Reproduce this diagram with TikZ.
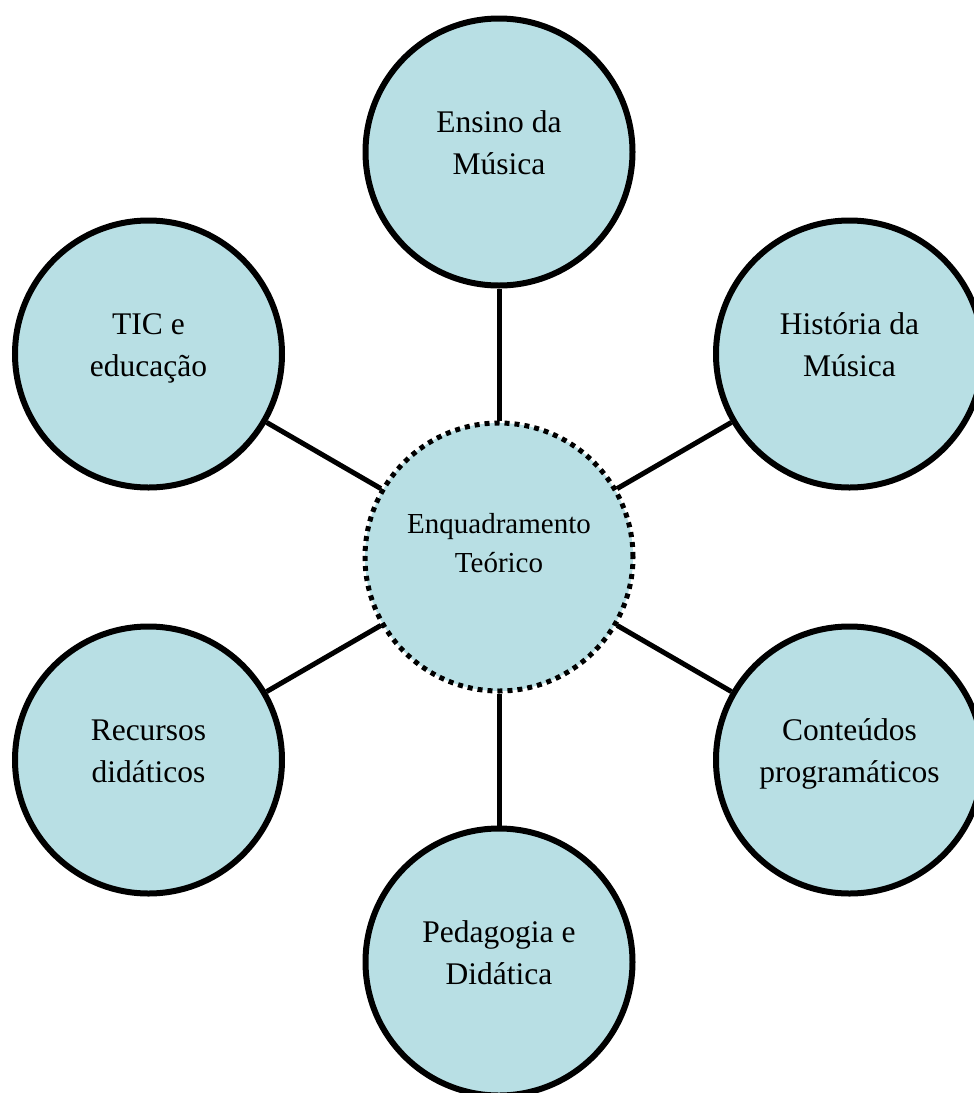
\documentclass[tikz,border=0pt]{standalone}
\usepackage{fontspec}
\setmainfont{Liberation Serif}
\definecolor{bub}{RGB}{184,223,228}
\begin{document}
\begin{tikzpicture}[x=1pt,y=-1pt,
  bubble/.style={circle,draw=black,line width=6pt,fill=bub,minimum size=267pt,inner sep=0pt},
  hub/.style={bubble,line width=5pt,minimum size=268pt,dash pattern=on 5pt off 5pt},
  lbl/.style={align=center,inner sep=0pt,anchor=north,font=\fontsize{31.5}{42}\selectfont},
  hublbl/.style={align=center,inner sep=0pt,anchor=north,font=\fontsize{29}{39}\selectfont},
  link/.style={line width=5pt}]
\useasboundingbox (0,0) rectangle (974,1093);
\clip (0,0) rectangle (974,1093);

\node[hub] (c) at (499,557) {};
\node[bubble] (n) at (499,152) {};
\node[bubble] (ne) at (849.5,354) {};
\node[bubble] (nw) at (148.5,354) {};
\node[bubble] (sw) at (148.5,760) {};
\node[bubble] (se) at (849.5,760) {};
\node[bubble] (s) at (499,962) {};

\draw[link] (c) -- (n);
\draw[link] (c) -- (ne);
\draw[link] (c) -- (nw);
\draw[link] (c) -- (sw);
\draw[link] (c) -- (se);
\draw[link] (c) -- (s);

\node[hublbl] (tc) at ([yshift=51.3pt]c.center) {\strut Enquadramento\\\strut Teórico};
\node[lbl] (tn) at ([yshift=49.4pt]n.center) {\strut Ensino da\\\strut Música};
\node[lbl] (tne) at ([yshift=49.4pt]ne.center) {\strut História da\\\strut Música};
\node[lbl] (tnw) at ([yshift=49.4pt]nw.center) {\strut TIC e\\\strut educação};
\node[lbl] (tsw) at ([yshift=49.4pt]sw.center) {\strut Recursos\\\strut didáticos};
\node[lbl] (tse) at ([yshift=49.4pt]se.center) {\strut Conteúdos\\\strut programáticos};
\node[lbl] (ts) at ([yshift=49.4pt]s.center) {\strut Pedagogia e\\\strut Didática};
\end{tikzpicture}
\end{document}
